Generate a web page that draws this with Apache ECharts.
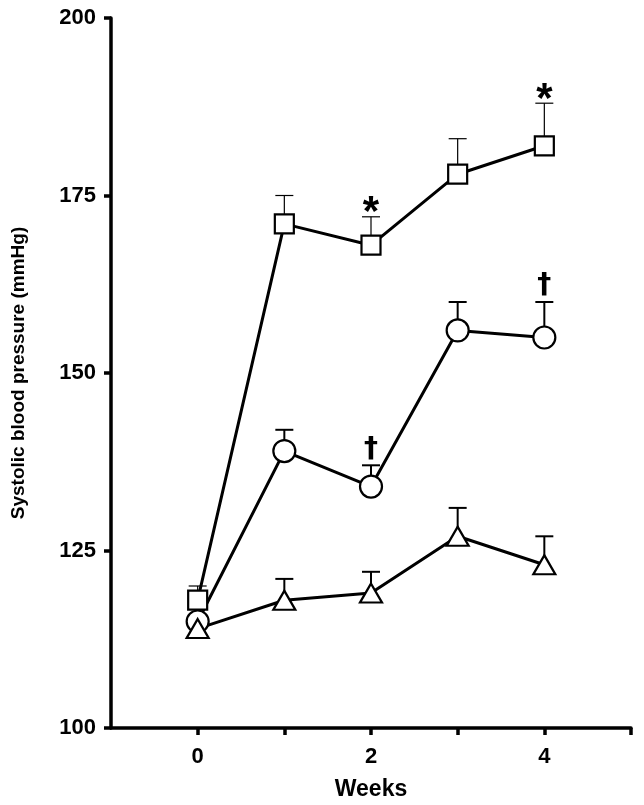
<!DOCTYPE html>
<html>
<head>
<meta charset="utf-8">
<script src="https://cdn.jsdelivr.net/npm/echarts@6/dist/echarts.min.js"></script>
<style>
html,body{margin:0;padding:0;background:#fff;}
#chart{width:644px;height:805px;}
</style>
</head>
<body>
<div id="chart"></div>
<script>
const weeks = [0, 1, 2, 3, 4];
const squareMean = [118, 171, 168, 178, 182];
const squareUpper = [120, 175, 172, 183, 188];
const circleMean = [115, 139, 134, 156, 155];
const circleUpper = [117, 142, 137, 160, 160];
const triangleMean = [114, 118, 119, 127, 123];
const triangleUpper = [115, 121, 122, 131, 127];
const xTickValues = [0, 1, 2, 3, 4, 5];
const xLabelValues = [0, 2, 4];
const starWeeks = [2, 4];      // marked on square series
const daggerWeeks = [2, 4];    // marked on circle series

const FONT = '"Liberation Sans", Arial, Helvetica, sans-serif';

function pairs(xs, ys) { return xs.map((x, i) => [x, ys[i]]); }
function errData(xs, m, u) { return xs.map((x, i) => [x, m[i], u[i]]); }

function errSeries(data, lw) {
  return {
    type: 'custom',
    z: 1,
    silent: true,
    data: data,
    renderItem: function (params, api) {
      const p0 = api.coord([api.value(0), api.value(1)]);
      const p1 = api.coord([api.value(0), api.value(2)]);
      const hw = 9;
      return {
        type: 'group',
        children: [
          { type: 'line', shape: { x1: p0[0], y1: p0[1], x2: p1[0], y2: p1[1] }, style: { stroke: '#000', lineWidth: lw } },
          { type: 'line', shape: { x1: p1[0] - hw, y1: p1[1], x2: p1[0] + hw, y2: p1[1] }, style: { stroke: '#000', lineWidth: lw } }
        ]
      };
    }
  };
}

function markSeries(xs, uppers, text, font, off) {
  const data = xs.map(x => { const i = weeks.indexOf(x); return [x, uppers[i]]; });
  return {
    type: 'custom',
    z: 10,
    silent: true,
    data: data,
    renderItem: function (params, api) {
      const p = api.coord([api.value(0), api.value(1)]);
      return {
        type: 'text',
        x: p[0], y: p[1] - off,
        style: { text: text, font: font, fill: '#000', align: 'center', verticalAlign: 'bottom' }
      };
    }
  };
}

function lineSeries(data, symbol, size) {
  return {
    type: 'line',
    data: data,
    symbol: symbol,
    symbolSize: size,
    showAllSymbol: true,
    z: 3,
    lineStyle: { color: '#000', width: 3 },
    itemStyle: { color: '#fff', borderColor: '#000', borderWidth: 2.2 },
    emphasis: { disabled: true },
    animation: false
  };
}

const chart = echarts.init(document.getElementById('chart'), null, { renderer: 'canvas' });
chart.setOption({
  animation: false,
  backgroundColor: '#fff',
  grid: { left: 111, right: 13, top: 18, bottom: 77, containLabel: false, outerBoundsMode: 'none' },
  xAxis: {
    type: 'value', min: -1, max: 5, interval: 1,
    name: 'Weeks', nameLocation: 'middle', nameGap: 50,
    nameTextStyle: { fontFamily: FONT, fontWeight: 'bold', fontSize: 23, color: '#000' },
    axisLine: { show: true, onZero: false, lineStyle: { color: '#000', width: 3.5 } },
    axisTick: { show: true, inside: false, length: 7, customValues: xTickValues, lineStyle: { color: '#000', width: 3.5 } },
    axisLabel: { customValues: xLabelValues, margin: 18, fontFamily: FONT, fontWeight: 'bold', fontSize: 22, color: '#000' },
    splitLine: { show: false }
  },
  yAxis: {
    type: 'value', min: 100, max: 200, interval: 25,
    name: 'Systolic blood pressure (mmHg)', nameLocation: 'middle', nameGap: 83, nameRotate: 90,
    nameTextStyle: { fontFamily: FONT, fontWeight: 'bold', fontSize: 19, color: '#000' },
    axisLine: { show: true, onZero: false, lineStyle: { color: '#000', width: 3.5 } },
    axisTick: { show: true, inside: false, length: 7, lineStyle: { color: '#000', width: 3.5 } },
    axisLabel: { margin: 15, fontFamily: FONT, fontWeight: 'bold', fontSize: 22, color: '#000' },
    splitLine: { show: false }
  },
  series: [
    errSeries(errData(weeks, squareMean, squareUpper), 1.2),
    errSeries(errData(weeks, circleMean, circleUpper), 2),
    errSeries(errData(weeks, triangleMean, triangleUpper), 2),
    lineSeries(pairs(weeks, squareMean), 'rect', 19),
    lineSeries(pairs(weeks, circleMean), 'circle', 22),
    lineSeries(pairs(weeks, triangleMean), 'triangle', [22, 19]),
    markSeries(starWeeks, squareUpper, '*', 'bold 42px ' + FONT, -18),
    markSeries(daggerWeeks, circleUpper, '\u2020', 'bold 28px "DejaVu Sans", ' + FONT, 2)
  ]
});
</script>
</body>
</html>
